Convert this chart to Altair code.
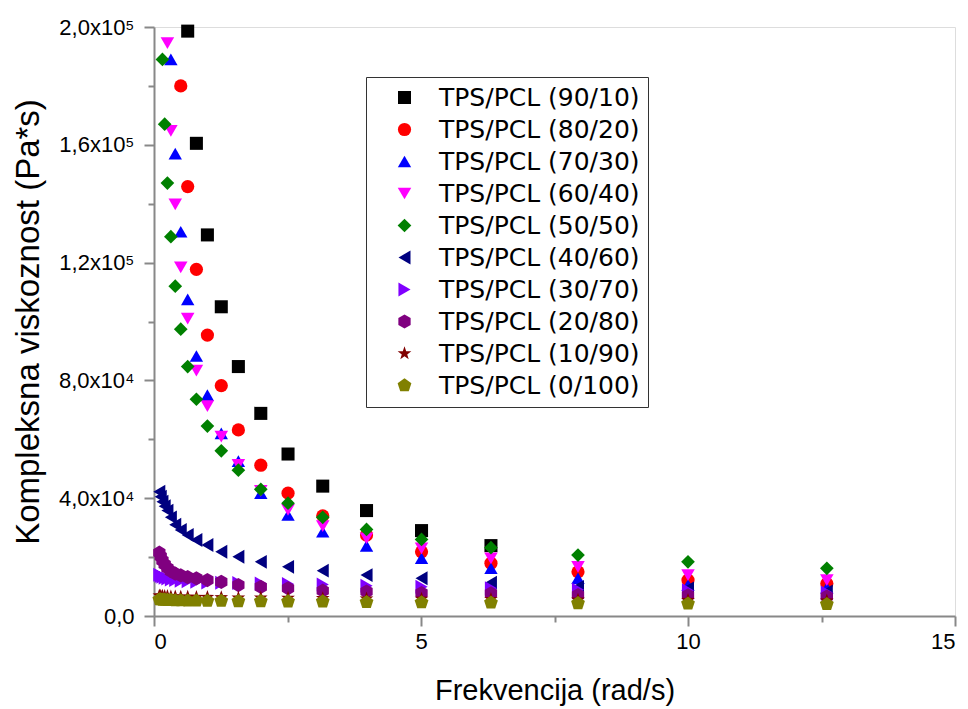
import altair as alt
import pandas as pd

# Frequencies (rad/s)
freq = [0.1, 0.126, 0.158, 0.2, 0.251, 0.316, 0.398, 0.501, 0.631, 0.794, 1.0,
        1.26, 1.58, 2.0, 2.51, 3.16, 3.98, 5.01, 6.31, 7.94, 10.0, 12.6]

series = ["TPS/PCL (90/10)", "TPS/PCL (80/20)", "TPS/PCL (70/30)", "TPS/PCL (60/40)",
          "TPS/PCL (50/50)", "TPS/PCL (40/60)", "TPS/PCL (30/70)", "TPS/PCL (20/80)",
          "TPS/PCL (10/90)", "TPS/PCL (0/100)"]

# first frequency index shown for each series (points above 2e5 are off-scale)
start_idx = [8, 7, 5, 4, 2, 0, 0, 0, 0, 0]

# complex viscosity values in kPa*s
v90_10 = [198.6, 160.5, 129.4, 105.0, 84.7, 68.8, 55.0, 44.1, 35.8, 29.0, 23.9]
v80_20 = [180.0, 145.8, 117.7, 95.4, 78.2, 63.2, 51.2, 41.7, 34.0, 27.5, 21.8, 17.9, 15.0, 12.2, 11.0]
v70_30 = [189.0, 157.0, 130.5, 107.5, 88.3, 75.0, 62.0, 52.6, 41.7, 34.3, 28.6, 23.8, 19.6, 16.2,
          12.8, 10.5, 9.6]
v60_40 = [194.5, 164.7, 139.8, 118.4, 101.0, 83.3, 71.3, 60.9, 51.3, 42.5, 36.0, 30.5, 26.4, 23.0,
          19.6, 16.7, 13.9, 12.2]
v50_50 = [189.0, 167.0, 147.0, 128.8, 112.0, 97.4, 84.7, 73.6, 64.5, 56.1, 49.5, 43.0, 38.3, 33.5,
          29.4, 26.0, 23.2, 20.7, 18.4, 16.2]
v40_60 = [42.2, 40.5, 38.8, 37.3, 35.8, 33.5, 31.0, 29.2, 27.5, 25.8, 24.1, 21.8, 20.1, 18.4, 16.7,
          15.4, 13.9, 12.8, 11.3, 9.9, 9.4, 8.3]
v30_70 = [14.0, 13.6, 13.3, 13.0, 12.7, 12.4, 12.2, 12.0, 11.8, 11.6, 11.4, 11.3, 11.2, 11.0, 10.9,
          10.7, 10.3, 9.9, 9.4, 8.9, 8.7, 8.0]
v20_80 = [21.5, 20.2, 18.8, 17.5, 16.3, 15.2, 14.4, 13.8, 13.2, 12.8, 12.2, 11.6, 10.5, 9.9, 9.4,
          8.6, 8.3, 7.8, 7.7, 7.1, 7.0, 6.6]
v10_90 = [6.9, 6.8, 6.8, 6.7, 6.7, 6.6, 6.6, 6.5, 6.5, 6.4, 6.4, 6.3, 6.2, 6.2, 6.1, 6.0, 5.9, 5.8,
          5.7, 5.5, 5.4, 5.2]
v0_100 = [5.6, 5.6, 5.5, 5.5, 5.4, 5.4, 5.3, 5.3, 5.2, 5.2, 5.1, 5.1, 5.0, 5.0, 4.9, 4.9, 4.7, 4.6,
          4.5, 4.3, 4.2, 4.0]

values = [v90_10, v80_20, v70_30, v60_40, v50_50, v40_60, v30_70, v20_80, v10_90, v0_100]

colors = ["#000000", "#FF0000", "#0000FF", "#FF00FF", "#008000", "#000080", "#8000FF",
          "#800080", "#800000", "#808000"]

HEX = "M0,-1L0.866,-0.5L0.866,0.5L0,1L-0.866,0.5L-0.866,-0.5Z"
STAR = ("M0,-1L0.235,-0.324L0.951,-0.309L0.380,0.124L0.588,0.809L0,0.4L-0.588,0.809"
        "L-0.380,0.124L-0.951,-0.309L-0.235,-0.324Z")
PENT = "M0,-1L0.951,-0.309L0.588,0.809L-0.588,0.809L-0.951,-0.309Z"
shapes = ["square", "circle", "triangle-up", "triangle-down", "diamond", "triangle-left",
          "triangle-right", HEX, STAR, PENT]
sizes = [170, 210, 240, 240, 260, 200, 200, 220, 240, 260]

rows = []
for i, (s, st, vals) in enumerate(zip(series, start_idx, values)):
    for k, v in enumerate(vals):
        rows.append({"freq": freq[st + k], "visc": v * 1000.0, "series": s, "idx": i})
df = pd.DataFrame(rows)

FONT = "DejaVu Sans"
xscale = alt.Scale(domain=[0, 15], nice=False, zero=False)
yscale = alt.Scale(domain=[0, 200000], nice=False, zero=False)

y_label_expr = ("datum.value == 0 ? '0,0' : (datum.value >= 100000 ? "
                "replace(format(datum.value/100000, '.1f'), '.', ',') + 'x10\u2075' : "
                "replace(format(datum.value/10000, '.1f'), '.', ',') + 'x10\u2074')")

main = alt.Chart(df).mark_point(filled=True, opacity=1, strokeWidth=0).encode(
    x=alt.X("freq:Q", scale=xscale,
            axis=alt.Axis(orient="bottom", values=[0, 5, 10, 15], format="d", tickSize=10,
                          tickWidth=2, domainWidth=2, labelFontSize=22, labelPadding=5,
                          title="Frekvencija (rad/s)", titleFontSize=29,
                          titleFontWeight="normal",
                          titleY=74, titleBaseline="middle", grid=False)),
    y=alt.Y("visc:Q", scale=yscale,
            axis=alt.Axis(orient="left", values=[0, 40000, 80000, 120000, 160000, 200000],
                          labelExpr=y_label_expr, tickSize=10, tickWidth=2, domainWidth=2,
                          labelFontSize=22, labelPadding=10,
                          title="Kompleksna viskoznost (Pa*s)", titleFontSize=33,
                          titleFontWeight="normal",
                          titleX=-126, titleBaseline="middle", titleAlign="center",
                          grid=False)),
    color=alt.Color("series:N", scale=alt.Scale(domain=series, range=colors), title=None,
                    legend=alt.Legend(orient="none", legendX=212, legendY=50,
                                      strokeColor="#333333", fillColor="white", padding=8,
                                      symbolSize=150, symbolOffset=18, labelFontSize=25,
                                      labelFont=FONT, labelColor="black", rowPadding=6,
                                      labelOffset=22, labelLimit=400, symbolStrokeWidth=0)),
    shape=alt.Shape("series:N", scale=alt.Scale(domain=series, range=shapes), title=None),
    size=alt.Size("series:N", scale=alt.Scale(domain=series, range=sizes), legend=None),
    order=alt.Order("idx:Q"),
)

minor = alt.Chart(df).mark_point(opacity=0).encode(
    x=alt.X("freq:Q", scale=xscale,
            axis=alt.Axis(values=[2.5, 7.5, 12.5], labels=False, domain=False, tickSize=6,
                          tickWidth=2, title=None, grid=False, orient="bottom")),
    y=alt.Y("visc:Q", scale=yscale,
            axis=alt.Axis(values=[20000, 60000, 100000, 140000, 180000], labels=False,
                          domain=False, tickSize=6, tickWidth=2, title=None, grid=False,
                          orient="left")),
)

chart = alt.layer(minor, main).resolve_scale(x="independent", y="independent").properties(
    width=801, height=589,
    padding={"left": 154, "top": 27, "right": 13, "bottom": 93},
    autosize=alt.AutoSizeParams(type="none"),
).configure_view(stroke=None).configure_axis(
    domainColor="black", tickColor="black", labelColor="black", titleColor="black",
    labelFont=FONT, titleFont=FONT, titleFontWeight="normal",
).configure(background="white")

chart.save("out.html", embed_options={"renderer": "svg", "actions": False})
